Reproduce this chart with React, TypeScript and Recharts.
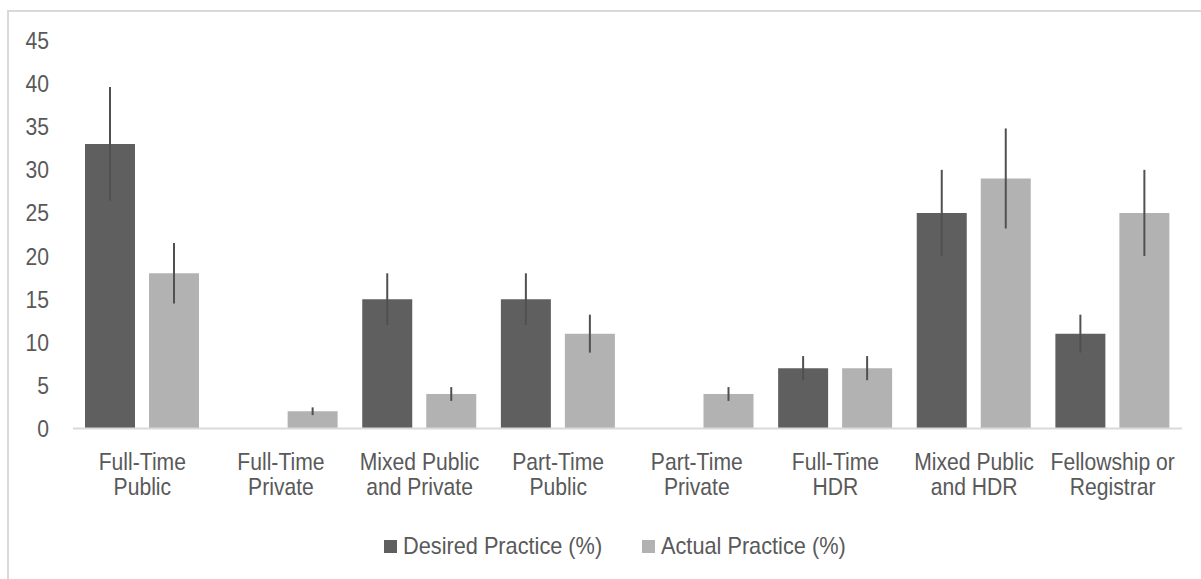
import { BarChart, Bar, XAxis, YAxis, ErrorBar } from 'recharts';

const categories = [
  'Full-Time\nPublic',
  'Full-Time\nPrivate',
  'Mixed Public\nand Private',
  'Part-Time\nPublic',
  'Part-Time\nPrivate',
  'Full-Time\nHDR',
  'Mixed Public\nand HDR',
  'Fellowship or\nRegistrar',
];
const desired = [33, 0, 15, 15, 0, 7, 25, 11];
const actual = [18, 2, 4, 11, 4, 7, 29, 25];
const desiredErr = [6.6, 0, 3, 3, 0, 1.4, 5, 2.2];
const actualErr = [3.5, 0.45, 0.8, 2.2, 0.8, 1.4, 5.8, 5];
const yTicks = [0, 5, 10, 15, 20, 25, 30, 35, 40, 45];

const data = categories.map((name, i) => ({
  name,
  desired: desired[i],
  actual: actual[i],
  desiredErr: desiredErr[i],
  actualErr: actualErr[i],
}));

// no narrow font available, so squeeze Liberation Sans horizontally
const FONT = '"Liberation Sans", Arial, sans-serif';
const SQUEEZE = 0.88;
const TEXT = '#595959';
const DARK = '#5f5f5f';
const LIGHT = '#b2b2b2';

function CategoryTick({ x, y, payload }: any) {
  const lines = String(payload.value).split('\n');
  return (
    <g transform={`translate(${x},${y}) scale(${SQUEEZE},1)`}>
      <text x={0} y={0} textAnchor="middle" fill={TEXT} fontSize={24} fontFamily={FONT}>
        {lines.map((line, i) => (
          <tspan key={i} x={0} dy={i === 0 ? 41.5 : 25}>
            {line}
          </tspan>
        ))}
      </text>
    </g>
  );
}

function ValueTick({ x, y, payload }: any) {
  return (
    <g transform={`translate(${x + 1},${y}) scale(${SQUEEZE},1)`}>
      <text x={0} y={0} dy="0.355em" textAnchor="end" fill={TEXT} fontSize={24} fontFamily={FONT}>
        {payload.value}
      </text>
    </g>
  );
}

function LegendSwatch({ color, label, left }: { color: string; label: string; left: number }) {
  return (
    <div style={{ position: 'absolute', left, top: 532, display: 'flex', alignItems: 'center' }}>
      <div style={{ width: 13, height: 13, background: color, marginRight: 6 }} />
      <span
        style={{
          fontFamily: FONT,
          fontSize: 24,
          color: TEXT,
          lineHeight: '28px',
          display: 'inline-block',
          transform: 'scaleX(0.905)',
          transformOrigin: 'left center',
          whiteSpace: 'nowrap',
        }}
      >
        {label}
      </span>
    </div>
  );
}

export default function App() {
  return (
    <div style={{ position: 'absolute', left: 0, top: 0, width: 1201, height: 579, background: '#fff', overflow: 'hidden' }}>
      <div
        style={{
          position: 'absolute',
          left: 7,
          top: 10,
          width: 1210,
          height: 600,
          borderLeft: '2px solid #d9d9d9',
          borderTop: '2px solid #d9d9d9',
        }}
      />
      <div style={{ position: 'absolute', left: 0, top: 0 }}>
        <BarChart
          width={1201}
          height={579}
          data={data}
          margin={{ top: 40.5, right: 19, bottom: 90.5, left: 0 }}
          barSize={50}
          barGap={14}
        >
          <XAxis
            dataKey="name"
            axisLine={{ stroke: '#d9d9d9', strokeWidth: 2 }}
            tickLine={false}
            tickSize={0}
            tickMargin={0}
            height={60}
            interval={0}
            tick={<CategoryTick />}
          />
          <YAxis
            domain={[0, 45]}
            ticks={yTicks}
            width={73}
            axisLine={false}
            tickLine={false}
            tickSize={0}
            tickMargin={25}
            tick={<ValueTick />}
          />
          <Bar dataKey="desired" fill={DARK} isAnimationActive={false}>
            <ErrorBar dataKey="desiredErr" width={0} stroke="#505050" strokeWidth={2} />
          </Bar>
          <Bar dataKey="actual" fill={LIGHT} isAnimationActive={false}>
            <ErrorBar dataKey="actualErr" width={0} stroke="#505050" strokeWidth={2} />
          </Bar>
        </BarChart>
      </div>
      <LegendSwatch color={DARK} label="Desired Practice (%)" left={384} />
      <LegendSwatch color={LIGHT} label="Actual Practice (%)" left={642} />
    </div>
  );
}
